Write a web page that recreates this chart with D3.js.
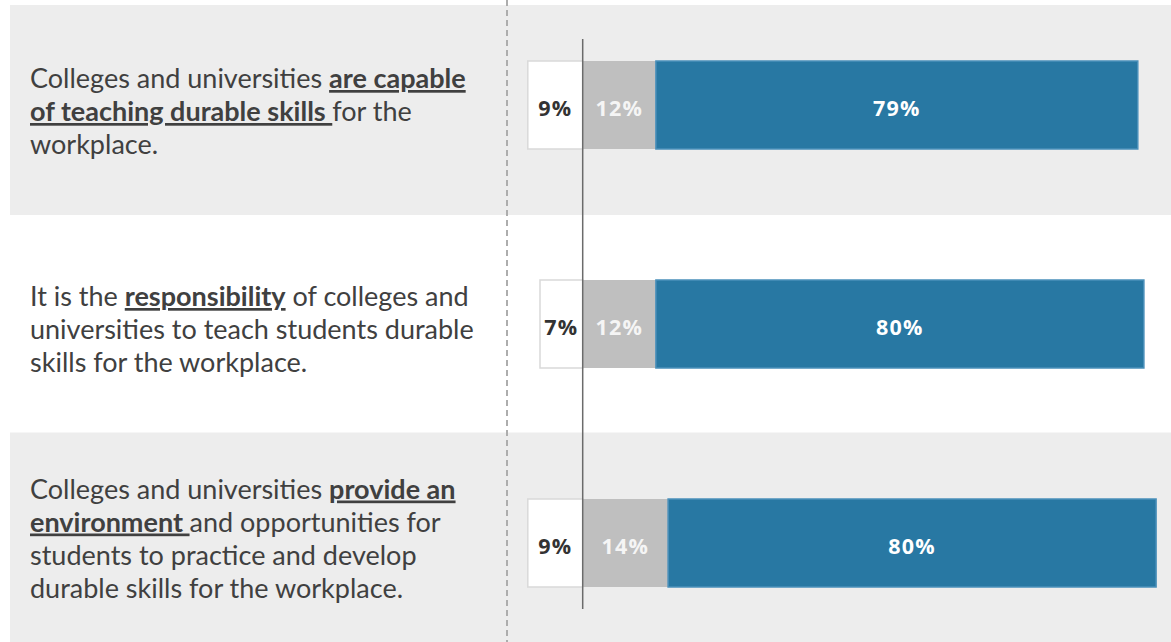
<!DOCTYPE html>
<html>
<head>
<meta charset="utf-8">
<script src="https://cdn.jsdelivr.net/npm/d3@7"></script>
<style>
  html, body { margin: 0; padding: 0; background: #ffffff; }
  svg { display: block; }
</style>
</head>
<body>
<svg id="chart" width="1171" height="642"></svg>
<script>
// Statement text: each line is a list of [text, emphasised] pieces
const statementLines = [
  [
    [["Colleges and universities ", false], ["are capable", true]],
    [["of teaching durable skills ", true], ["for the", false]],
    [["workplace.", false]]
  ],
  [
    [["It is the ", false], ["responsibility", true], [" of colleges and", false]],
    [["universities to teach students durable", false]],
    [["skills for the workplace.", false]]
  ],
  [
    [["Colleges and universities ", false], ["provide an", true]],
    [["environment ", true], ["and opportunities for", false]],
    [["students to practice and develop", false]],
    [["durable skills for the workplace.", false]]
  ]
];

// Shares of respondents (%)
const disagree = [9, 7, 9];
const neutral  = [12, 12, 14];
const agree    = [79, 80, 80];

const W = 1171, H = 642;
const svg = d3.select("#chart");

const rows = d3.range(statementLines.length);
const y = d3.scalePoint().domain(rows).range([105, 543]);
const step = y.step();
const x = d3.scaleLinear().domain([-10, 95]).range([521.7, 1162.2]);
const barH = 88;

const textColor = "#404040";
const fontBody = "Lato, 'Open Sans', sans-serif";

// Alternating row backgrounds (top row starts below a thin white margin)
const bandTop = i => i === 0 ? 5 : y(i) - step / 2 - 1;
const bandBottom = i => i === rows.length - 1 ? H : y(i) + step / 2 + 0.5;
svg.selectAll("rect.band")
  .data(rows.filter(i => i % 2 === 0))
  .join("rect")
  .attr("class", "band")
  .attr("x", 10)
  .attr("y", bandTop)
  .attr("width", W - 10)
  .attr("height", i => bandBottom(i) - bandTop(i))
  .attr("fill", "#ededed");

// Dashed divider between statements and bars
svg.append("line")
  .attr("x1", 507).attr("x2", 507)
  .attr("y1", 0).attr("y2", H)
  .attr("stroke", "#adadad")
  .attr("stroke-width", 2)
  .attr("stroke-dasharray", "6,4");

// Statement text blocks
const lineGap = 33;
const textCenters = [111, 329, 538];
rows.forEach(i => {
  const lines = statementLines[i];
  const first = textCenters[i] - (lines.length - 1) * lineGap / 2 + 10;
  const t = svg.append("text")
    .attr("xml:space", "preserve")
    .attr("font-family", fontBody)
    .attr("font-size", 27)
    .attr("fill", textColor);
  lines.forEach((pieces, li) => {
    pieces.forEach((p, pi) => {
      const ts = t.append("tspan").text(p[0]);
      if (pi === 0) ts.attr("x", 30).attr("y", first + li * lineGap);
      if (p[1]) ts.attr("font-weight", "bold").attr("text-decoration", "underline");
    });
  });
});

// Stacked bars
const segs = rows.flatMap(i => [
  { row: i, x0: -disagree[i], x1: 0, v: disagree[i], fill: "#ffffff", stroke: "#d9d9d9", label: "#333333" },
  { row: i, x0: 0, x1: neutral[i], v: neutral[i], fill: "#bfbfbf", stroke: "none", label: "#f5f5f5" },
  { row: i, x0: neutral[i], x1: neutral[i] + agree[i], v: agree[i], fill: "#2878a3", stroke: "#4a90ba", label: "#ffffff" }
]);

svg.selectAll("rect.seg")
  .data(segs)
  .join("rect")
  .attr("class", "seg")
  .attr("x", d => x(d.x0))
  .attr("y", d => y(d.row) - barH / 2)
  .attr("width", d => x(d.x1) - x(d.x0))
  .attr("height", barH)
  .attr("fill", d => d.fill)
  .attr("stroke", d => d.stroke)
  .attr("stroke-width", 1.5);

svg.selectAll("text.val")
  .data(segs)
  .join("text")
  .attr("class", "val")
  .attr("x", d => (x(d.x0) + x(d.x1)) / 2)
  .attr("y", d => y(d.row) + 10.5)
  .attr("text-anchor", "middle")
  .attr("font-family", "'Open Sans', sans-serif")
  .attr("font-weight", "bold")
  .attr("font-size", 21.5)
  .attr("letter-spacing", 1.2)
  .attr("fill", d => d.label)
  .text(d => d.v + "%");

// Zero reference line
svg.append("line")
  .attr("x1", x(0)).attr("x2", x(0))
  .attr("y1", 39).attr("y2", 609)
  .attr("stroke", "#6b6b6b")
  .attr("stroke-width", 1.5);
</script>
</body>
</html>
